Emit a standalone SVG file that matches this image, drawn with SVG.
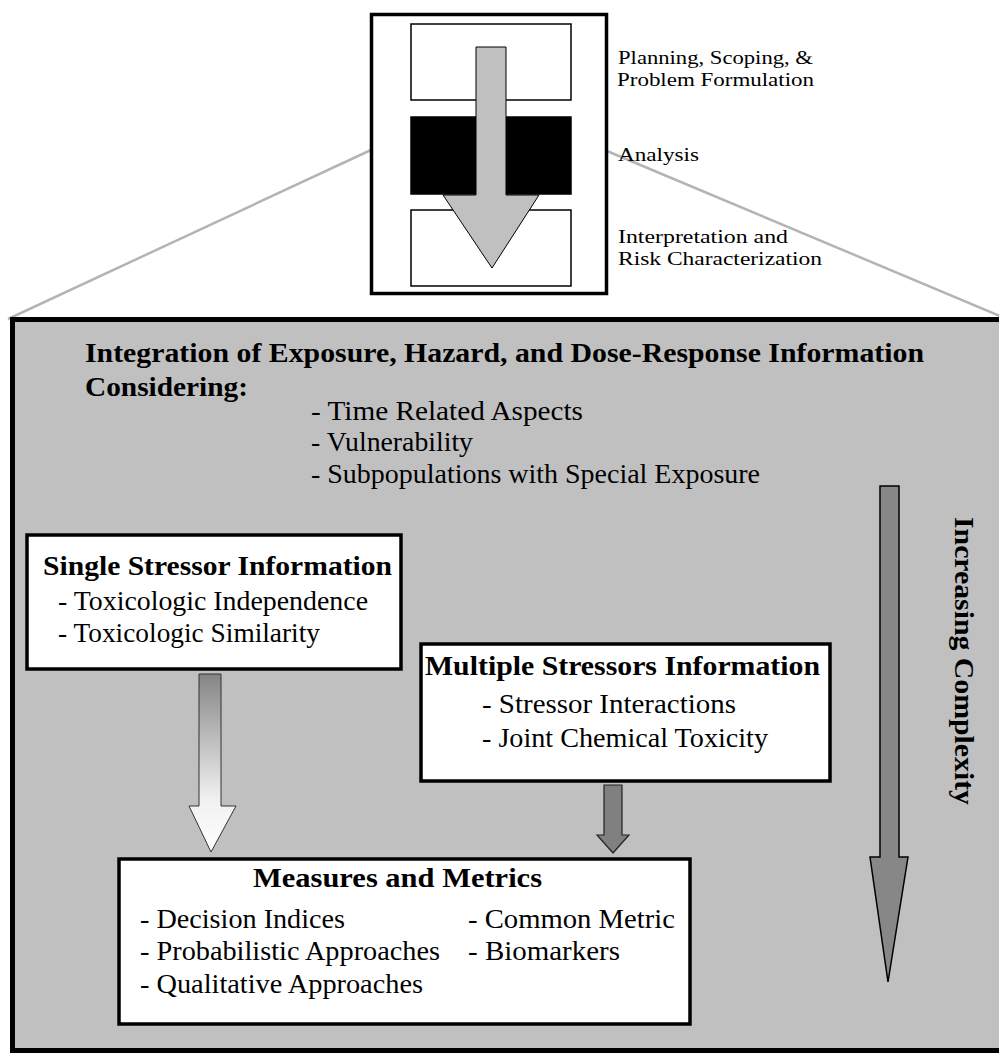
<svg xmlns="http://www.w3.org/2000/svg" width="999" height="1053" viewBox="0 0 999 1053">
  <defs>
    <style>
      .t { font-family: "Liberation Serif", "Times New Roman", serif; font-size: 27px; fill: #000; }
      .b { font-weight: bold; }
      .s { font-size: 18px; }
      .box { fill: #fff; stroke: #000; stroke-width: 3.5; }
      .zoom { stroke: #b4b4b4; stroke-width: 2.5; fill: none; }
    </style>
    <linearGradient id="fade" x1="0" y1="0" x2="0" y2="1">
      <stop offset="0" stop-color="#858585"/>
      <stop offset="0.7" stop-color="#f0f0f0"/>
      <stop offset="1" stop-color="#ffffff"/>
    </linearGradient>
  </defs>

  <rect x="0" y="0" width="999" height="1053" fill="#fff"/>

  <g id="zoom-lines">
    <line class="zoom" x1="371" y1="150" x2="8" y2="319"/>
    <line class="zoom" x1="607" y1="151" x2="1000" y2="316"/>
  </g>

  <g id="panel">
    <rect x="12.5" y="319.5" width="1000" height="731" fill="#c0c0c0" stroke="#000" stroke-width="5"/>
    <text class="t b" x="85" y="362" textLength="839" lengthAdjust="spacingAndGlyphs">Integration of Exposure, Hazard, and Dose-Response Information</text>
    <text class="t b" x="85" y="396" textLength="163" lengthAdjust="spacingAndGlyphs">Considering:</text>
    <text class="t" x="311" y="420" textLength="272" lengthAdjust="spacingAndGlyphs">- Time Related Aspects</text>
    <text class="t" x="311" y="451" textLength="162" lengthAdjust="spacingAndGlyphs">- Vulnerability</text>
    <text class="t" x="311" y="483" textLength="449" lengthAdjust="spacingAndGlyphs">- Subpopulations with Special Exposure</text>
  </g>

  <g id="process-box">
    <rect x="371.5" y="14.5" width="235" height="279" fill="#fff" stroke="#000" stroke-width="3.5"/>
    <rect x="411" y="24" width="160" height="76" fill="#fff" stroke="#000" stroke-width="1.5"/>
    <rect x="411" y="117" width="160" height="77" fill="#000" stroke="#000" stroke-width="1.5"/>
    <rect x="411" y="210" width="160" height="76" fill="#fff" stroke="#000" stroke-width="1.5"/>
    <polygon points="476,47 506,47 506,195 539,195 492,268 443,195 476,195" fill="#c0c0c0" stroke="#000" stroke-width="1"/>
  </g>

  <g id="process-labels">
    <text class="t s" x="618" y="64" textLength="195" lengthAdjust="spacingAndGlyphs">Planning, Scoping, &amp;</text>
    <text class="t s" x="617" y="86" textLength="197" lengthAdjust="spacingAndGlyphs">Problem Formulation</text>
    <text class="t s" x="618" y="161" textLength="81" lengthAdjust="spacingAndGlyphs">Analysis</text>
    <text class="t s" x="618" y="243" textLength="170" lengthAdjust="spacingAndGlyphs">Interpretation and</text>
    <text class="t s" x="618" y="265" textLength="204" lengthAdjust="spacingAndGlyphs">Risk Characterization</text>
  </g>

  <g id="single-stressor">
    <rect class="box" x="27" y="535" width="374" height="134"/>
    <text class="t b" x="43" y="575" textLength="349" lengthAdjust="spacingAndGlyphs">Single Stressor Information</text>
    <text class="t" x="58" y="610" textLength="310" lengthAdjust="spacingAndGlyphs">- Toxicologic Independence</text>
    <text class="t" x="58" y="642" textLength="262" lengthAdjust="spacingAndGlyphs">- Toxicologic Similarity</text>
  </g>

  <g id="multiple-stressors">
    <rect class="box" x="421" y="644" width="409" height="137"/>
    <text class="t b" x="425" y="675" textLength="395" lengthAdjust="spacingAndGlyphs">Multiple Stressors Information</text>
    <text class="t" x="482" y="713" textLength="254" lengthAdjust="spacingAndGlyphs">- Stressor Interactions</text>
    <text class="t" x="482" y="747" textLength="286" lengthAdjust="spacingAndGlyphs">- Joint Chemical Toxicity</text>
  </g>

  <g id="measures">
    <rect class="box" x="119" y="859" width="571" height="165"/>
    <text class="t b" x="253" y="887" textLength="289" lengthAdjust="spacingAndGlyphs">Measures and Metrics</text>
    <text class="t" x="140" y="928" textLength="205" lengthAdjust="spacingAndGlyphs">- Decision Indices</text>
    <text class="t" x="140" y="960" textLength="300" lengthAdjust="spacingAndGlyphs">- Probabilistic Approaches</text>
    <text class="t" x="140" y="993" textLength="283" lengthAdjust="spacingAndGlyphs">- Qualitative Approaches</text>
    <text class="t" x="468" y="928" textLength="207" lengthAdjust="spacingAndGlyphs">- Common Metric</text>
    <text class="t" x="468" y="960" textLength="152" lengthAdjust="spacingAndGlyphs">- Biomarkers</text>
  </g>

  <g id="complexity">
    <text class="t b" transform="translate(955,517) rotate(90)" x="0" y="0" font-size="28" textLength="288" lengthAdjust="spacingAndGlyphs">Increasing Complexity</text>
  </g>

  <g id="connectors">
    <polygon points="199,674 221,674 221,806 236,806 211,852 189,806 199,806" fill="url(#fade)" stroke="#333" stroke-width="1"/>
    <polygon points="604,785 622,785 622,835 629,835 613,853 597,835 604,835" fill="#808080" stroke="#222" stroke-width="1.2"/>
    <polygon points="880,486 899,486 899,857 908,857 888,982 870,857 880,857" fill="#878787" stroke="#000" stroke-width="1.5"/>
  </g>
</svg>
